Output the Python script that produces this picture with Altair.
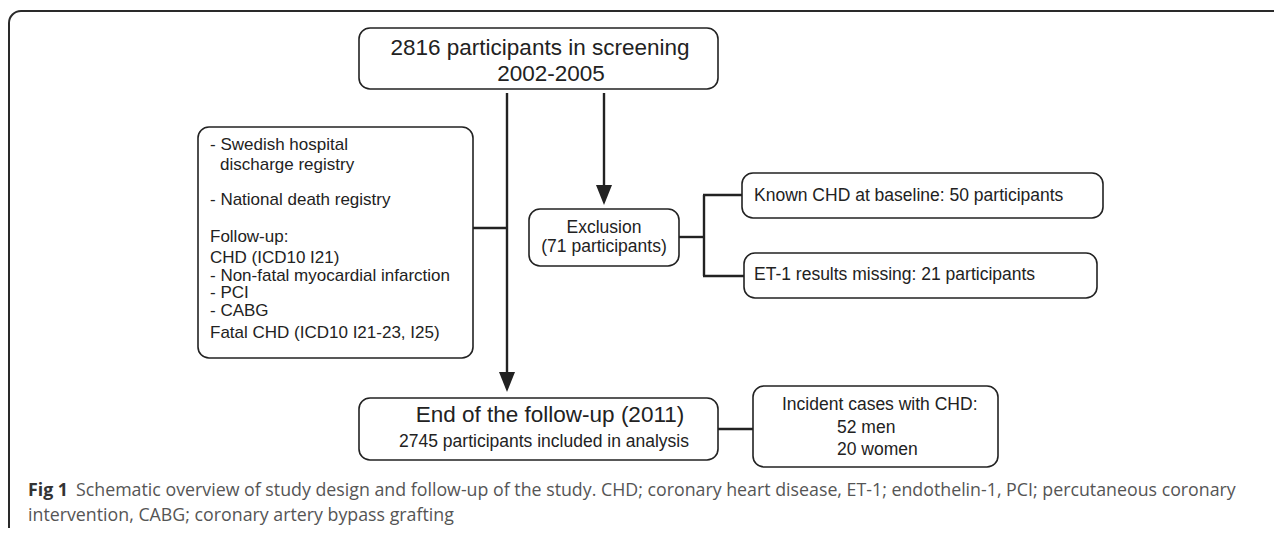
import altair as alt
import pandas as pd

# ---------------- content (text) ----------------
top_lines = ["2816 participants in screening", "2002-2005"]
source_lines = [
    "- Swedish hospital",
    "discharge registry",
    "- National death registry",
    "Follow-up:",
    "CHD (ICD10 I21)",
    "- Non-fatal myocardial infarction",
    "- PCI",
    "- CABG",
    "Fatal CHD (ICD10 I21-23, I25)",
]
exclusion_lines = ["Exclusion", "(71 participants)"]
known_chd = ["Known CHD at baseline: 50 participants"]
et1_missing = ["ET-1 results missing: 21 participants"]
end_lines = ["End of the follow-up (2011)", "2745 participants included in analysis"]
incident_lines = ["Incident cases with CHD:", "52 men", "20 women"]
caption_bold = "Fig 1"
caption_line1 = ("Schematic overview of study design and follow-up of the study. CHD; coronary heart disease, "
                 "ET-1; endothelin-1, PCI; percutaneous coronary")
caption_line2 = "intervention, CABG; coronary artery bypass grafting"

# ---------------- layout (pixel grid of the figure) ----------------
W, H = 1266, 520
X_DOM, Y_DOM = [8, 8 + W], [8, 8 + H]
xs = alt.Scale(domain=X_DOM, range=[0, W])
ys = alt.Scale(domain=Y_DOM, range=[0, H])

box_layout = pd.DataFrame([
    dict(box="top", x1=359, y1=28, x2=718, y2=89),
    dict(box="source", x1=198, y1=127, x2=473, y2=358),
    dict(box="exclusion", x1=529, y1=209, x2=679, y2=266),
    dict(box="known", x1=742, y1=173, x2=1103, y2=218),
    dict(box="et1", x1=744, y1=253, x2=1097, y2=298),
    dict(box="end", x1=359, y1=398, x2=718, y2=460),
    dict(box="incident", x1=753, y1=386, x2=998, y2=467),
])

frame = pd.DataFrame([dict(x1=9, y1=11, x2=1400, y2=700)])

line_layout = pd.DataFrame([
    dict(x1=507, y1=93, x2=507, y2=376),
    dict(x1=604, y1=93, x2=604, y2=190),
    dict(x1=473, y1=228, x2=507, y2=228),
    dict(x1=679, y1=237, x2=704, y2=237),
    dict(x1=704, y1=195, x2=704, y2=276),
    dict(x1=703, y1=195, x2=742, y2=195),
    dict(x1=703, y1=276, x2=744, y2=276),
    dict(x1=718, y1=429, x2=753, y2=429),
])

arrow_layout = pd.DataFrame([dict(x=507, y=382), dict(x=604, y=195)])

rows = []
def add(lines, xs_, ys_, group):
    for t, xx, yy in zip(lines, xs_, ys_):
        rows.append(dict(text=t, x=xx, y=yy, group=group))

add(top_lines, [540, 551], [48, 74], "big_center")
add(source_lines, [210, 220, 210, 210, 210, 210, 210, 210, 210],
    [145, 165, 200, 237, 258, 275.5, 293, 310.5, 333], "small_left")
add(exclusion_lines, [604, 604], [228, 247], "center")
add(known_chd, [754], [196], "left")
add(et1_missing, [754], [275], "left")
add(end_lines[:1], [550], [415], "big_center")
add(end_lines[1:], [544], [442], "center")
add(incident_lines, [782, 837, 837], [405, 428, 450], "left")
texts = pd.DataFrame(rows)

cap = pd.DataFrame([
    dict(text=caption_bold, x=28, y=491, group="cap_bold"),
    dict(text=caption_line1, x=76, y=491, group="cap"),
    dict(text=caption_line2, x=28, y=516, group="cap"),
])

INK = "#222222"
BOX_FONT = "Liberation Sans"

def enc_xy(ch):
    return ch.encode(
        x=alt.X("x:Q", scale=xs, axis=None),
        y=alt.Y("y:Q", scale=ys, axis=None),
        text="text:N",
    )

frame_layer = alt.Chart(frame).mark_rect(
    cornerRadius=12, fill="white", stroke="#2a2a2a", strokeWidth=2, clip=True
).encode(
    x=alt.X("x1:Q", scale=xs, axis=None), x2="x2:Q",
    y=alt.Y("y1:Q", scale=ys, axis=None), y2="y2:Q",
)

box_layer = alt.Chart(box_layout).mark_rect(
    cornerRadius=11, fill="white", stroke=INK, strokeWidth=1.6
).encode(
    x=alt.X("x1:Q", scale=xs, axis=None), x2="x2:Q",
    y=alt.Y("y1:Q", scale=ys, axis=None), y2="y2:Q",
)

line_layer = alt.Chart(line_layout).mark_rule(color=INK, strokeWidth=2.4).encode(
    x=alt.X("x1:Q", scale=xs, axis=None), x2="x2:Q",
    y=alt.Y("y1:Q", scale=ys, axis=None), y2="y2:Q",
)

arrow_layer = alt.Chart(arrow_layout).mark_point(
    shape="M-1,-1.25L1,-1.25L0,1.25Z", size=256, filled=True,
    color=INK, opacity=1, strokeWidth=0
).encode(
    x=alt.X("x:Q", scale=xs, axis=None),
    y=alt.Y("y:Q", scale=ys, axis=None),
)

def text_layer(df, group, **kw):
    return enc_xy(alt.Chart(df[df["group"] == group]).mark_text(baseline="middle", **kw))

t_big = text_layer(texts, "big_center", align="center", font=BOX_FONT, fontSize=22.5, color=INK)
t_center = text_layer(texts, "center", align="center", font=BOX_FONT, fontSize=17.5, color=INK)
t_left = text_layer(texts, "left", align="left", font=BOX_FONT, fontSize=17.5, color=INK)
t_small = text_layer(texts, "small_left", align="left", font=BOX_FONT, fontSize=17, color=INK)
c_bold = text_layer(cap, "cap_bold", align="left", font="Open Sans", fontSize=17.8,
                    fontWeight="bold", color="#333333")
c_reg = text_layer(cap, "cap", align="left", font="Open Sans", fontSize=17.8, color="#555555")

chart = alt.layer(
    frame_layer, line_layer, arrow_layer, box_layer,
    t_big, t_center, t_left, t_small, c_bold, c_reg,
).properties(
    width=W, height=H, padding=0,
    autosize=alt.AutoSizeParams(type="none"),
    background="white",
).configure_view(stroke=None)

chart.save("out.html", embed_options={"renderer": "svg", "actions": False})
